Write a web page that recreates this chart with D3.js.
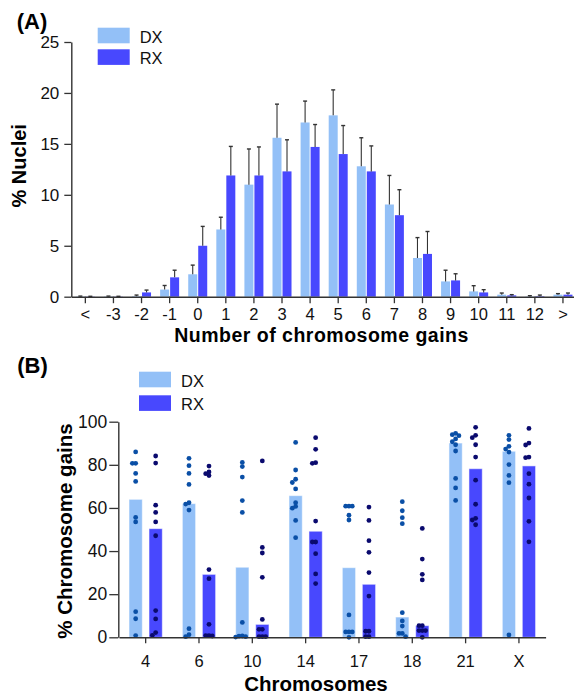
<!DOCTYPE html>
<html>
<head>
<meta charset="utf-8">
<script src="https://cdn.jsdelivr.net/npm/d3@7"></script>
<style>
  body { margin: 0; background: #fff; }
  svg { display: block; }
</style>
</head>
<body>
<script>
// Panel A: % nuclei by number of chromosome gains (mean + SD)
var gainCats = ["<", "-3", "-2", "-1", "0", "1", "2", "3", "4", "5", "6", "7", "8", "9", "10", "11", "12", ">"];
var dxMean = [0.03, 0.03, 0.05, 0.7, 2.2, 6.6, 11.0, 15.6, 17.1, 17.8, 12.8, 9.05, 3.8, 1.5, 0.52, 0.2, 0.03, 0.2];
var dxSd   = [0.03, 0.03, 0.11, 0.4, 0.9, 1.2, 3.5, 3.3, 2.1, 2.5, 2.8, 2.85, 2.0, 1.1, 0.56, 0.16, 0.07, 0.1];
var rxMean = [0.02, 0.02, 0.42, 1.9, 5.0, 11.9, 11.9, 12.3, 14.7, 14.0, 12.3, 8.0, 4.2, 1.6, 0.42, 0.13, 0.05, 0.2];
var rxSd   = [0.02, 0.02, 0.23, 0.7, 1.9, 2.85, 2.8, 3.1, 2.2, 2.8, 2.5, 2.5, 2.2, 0.65, 0.27, 0.07, 0.11, 0.16];

// Panel B: % chromosome gains per chromosome (median + individual samples)
var chroms = ["4", "6", "10", "14", "17", "18", "21", "X"];
var dxMedian = [64.0, 62.0, 32.5, 65.7, 32.3, 9.4, 90.1, 86.3];
var rxMedian = [50.4, 29.2, 6.0, 49.2, 24.6, 5.4, 78.2, 79.5];
var dxPoints = [
  [86.0, 80.7, 80.7, 76.0, 72.3, 55.6, 53.5, 11.9, 8.6, 0.8],
  [83.0, 79.6, 76.0, 70.9, 62.4, 61.8, 59.0, 4.0, 1.2, 0.3],
  [81.1, 79.2, 74.3, 63.4, 57.9, 6.9, 0.6, 0.5, 0.3, 0.1],
  [90.4, 77.6, 73.3, 71.8, 68.8, 62.4, 60.7, 59.9, 54.2, 46.2],
  [60.8, 60.8, 60.8, 56.6, 54.4, 10.4, 2.5, 2.5, 2.5, 0.0],
  [62.9, 58.7, 55.5, 52.7, 11.4, 7.6, 5.2, 1.8, 1.8, 0.3],
  [94.6, 94.0, 93.5, 92.0, 90.7, 89.3, 86.4, 73.7, 69.3, 63.5],
  [93.7, 91.7, 88.6, 87.3, 85.9, 80.1, 75.1, 71.7, 1.1]
];
var rxPoints = [
  [84.1, 80.8, 61.3, 57.9, 53.5, 47.1, 12.4, 8.5, 2.2, 0.9],
  [79.4, 76.7, 75.9, 75.0, 31.4, 27.2, 6.0, 0.8, 0.8, 0.6],
  [81.8, 41.7, 39.1, 27.8, 8.3, 3.7, 3.7, 0.3, 0.3, 0.3],
  [92.6, 87.2, 81.0, 80.7, 53.9, 44.2, 44.2, 38.8, 29.4, 24.9],
  [60.4, 54.2, 44.8, 39.4, 30.0, 19.1, 2.8, 2.8, 0.3, 0.3],
  [50.5, 36.3, 29.2, 26.6, 5.4, 5.4, 3.1, 3.1, 3.1, 0.0],
  [97.4, 93.7, 92.6, 89.3, 83.6, 72.9, 61.7, 55.2, 54.4, 52.2],
  [96.9, 90.1, 89.2, 83.6, 83.3, 75.9, 71.0, 64.6, 53.8, 44.3]
];

var groups = ["DX", "RX"];
var barColor = { DX: "#93c0f7", RX: "#4848fe" };
var dotColor = { DX: "#0a4fa6", RX: "#0a0a6e" };
var axisColor = "#333";

var width = 574, height = 697;

var svg = d3.select("body").append("svg")
    .attr("width", width)
    .attr("height", height)
    .style("font-family", "'Liberation Sans', Arial, sans-serif");

function styleAxis(g, fontSize) {
  g.select(".domain").attr("stroke", axisColor).attr("stroke-width", 1.4);
  g.selectAll(".tick line").attr("stroke", axisColor).attr("stroke-width", 1.3);
  g.selectAll(".tick text").attr("fill", "#111").style("font-size", fontSize + "px");
}

function legend(x, y, gap) {
  var lg = svg.append("g").attr("transform", "translate(" + x + "," + y + ")");
  groups.forEach(function(k, i) {
    lg.append("rect")
      .attr("x", 0).attr("y", i * gap)
      .attr("width", 32).attr("height", 15.6)
      .attr("fill", barColor[k]);
    lg.append("text")
      .attr("x", 42).attr("y", i * gap + 15)
      .style("font-size", "16.5px")
      .attr("fill", "#111")
      .text(k);
  });
}

// ---------- Panel A ----------
var xA = d3.scaleBand().domain(gainCats).range([71.3, 577]);
var yA = d3.scaleLinear().domain([0, 25]).range([296.7, 42]);
var subA = d3.scaleBand().domain(groups).range([-9.5, 9.5]).paddingInner(0.1);

var rowsA = gainCats.map(function(c, i) {
  return [
    { cat: c, grp: "DX", mean: dxMean[i], sd: dxSd[i] },
    { cat: c, grp: "RX", mean: rxMean[i], sd: rxSd[i] }
  ];
}).flat();

var gA = svg.append("g");

gA.selectAll("rect.barA")
  .data(rowsA)
  .enter().append("rect")
    .attr("class", "barA")
    .attr("x", function(d) { return xA(d.cat) + xA.bandwidth() / 2 + subA(d.grp); })
    .attr("y", function(d) { return yA(d.mean); })
    .attr("width", subA.bandwidth())
    .attr("height", function(d) { return yA(0) - yA(d.mean); })
    .attr("fill", function(d) { return barColor[d.grp]; });

var errA = gA.selectAll("g.err")
  .data(rowsA)
  .enter().append("g")
    .attr("class", "err")
    .attr("transform", function(d) {
      return "translate(" + (xA(d.cat) + xA.bandwidth() / 2 + subA(d.grp) + subA.bandwidth() / 2) + ",0)";
    });
errA.append("line")
  .attr("x1", 0).attr("x2", 0)
  .attr("y1", function(d) { return yA(d.mean); })
  .attr("y2", function(d) { return yA(d.mean + d.sd); })
  .attr("stroke", "#333").attr("stroke-width", 1.1);
errA.append("line")
  .attr("x1", -2).attr("x2", 2)
  .attr("y1", function(d) { return yA(d.mean + d.sd); })
  .attr("y2", function(d) { return yA(d.mean + d.sd); })
  .attr("stroke", "#333").attr("stroke-width", 1.4);

gA.append("g")
  .attr("transform", "translate(71.3,0)")
  .call(d3.axisLeft(yA).tickValues([0, 5, 10, 15, 20, 25]).tickSize(7).tickPadding(5).tickSizeOuter(0))
  .call(styleAxis, 17);

gA.append("g")
  .attr("transform", "translate(0,296.7)")
  .call(d3.axisBottom(xA).tickSize(6.5).tickPadding(5).tickSizeOuter(0))
  .call(styleAxis, 16.5);

gA.append("text")
  .attr("x", 321.5).attr("y", 341.5)
  .attr("text-anchor", "middle")
  .style("font-size", "19.5px").style("font-weight", "bold")
  .style("letter-spacing", "0.5px")
  .text("Number of chromosome gains");

gA.append("text")
  .attr("transform", "translate(26,165.8)rotate(-90)")
  .attr("text-anchor", "middle")
  .style("font-size", "20px").style("font-weight", "bold")
  .text("% Nuclei");

svg.append("text")
  .attr("x", 16.7).attr("y", 28.5)
  .style("font-size", "22px").style("font-weight", "bold")
  .text("(A)");

legend(97.7, 27.7, 21.6);

// ---------- Panel B ----------
var xB = d3.scaleBand().domain(chroms).range([119, 545.6]);
var yB = d3.scaleLinear().domain([0, 100]).range([637.3, 421.7]);
var subB = d3.scaleBand().domain(groups).range([-16.65, 16.65]).paddingInner(0.335);

var rowsB = chroms.map(function(c, i) {
  return [
    { cat: c, grp: "DX", med: dxMedian[i], pts: dxPoints[i] },
    { cat: c, grp: "RX", med: rxMedian[i], pts: rxPoints[i] }
  ];
}).flat();

var gB = svg.append("g");

gB.selectAll("rect.barB")
  .data(rowsB)
  .enter().append("rect")
    .attr("class", "barB")
    .attr("x", function(d) { return xB(d.cat) + xB.bandwidth() / 2 + subB(d.grp); })
    .attr("y", function(d) { return yB(d.med); })
    .attr("width", subB.bandwidth())
    .attr("height", function(d) { return yB(0) - yB(d.med); })
    .attr("fill", function(d) { return barColor[d.grp]; })
    .attr("stroke", "rgba(255,255,255,0.55)")
    .attr("stroke-width", 1);

// simple greedy swarm so overlapping samples sit side by side
function swarm(vals, y, step, minDist) {
  var pts = vals.map(function(v) { return { v: v, y: y(v), x: 0 }; })
    .sort(function(a, b) { return a.y - b.y; });
  var placed = [];
  pts.forEach(function(p) {
    for (var k = 0; k < 15; k++) {
      var off = k === 0 ? 0 : (k % 2 ? -1 : 1) * Math.ceil(k / 2) * step;
      var ok = placed.every(function(q) { return Math.hypot(q.x - off, q.y - p.y) >= minDist; });
      if (ok) { p.x = off; break; }
    }
    placed.push(p);
  });
  return placed;
}

rowsB.forEach(function(d) {
  var cx = xB(d.cat) + xB.bandwidth() / 2 + subB(d.grp) + subB.bandwidth() / 2;
  gB.append("g").selectAll("circle")
    .data(swarm(d.pts, yB, 3.3, 3.3))
    .enter().append("circle")
      .attr("cx", function(p) { return cx + p.x; })
      .attr("cy", function(p) { return p.y; })
      .attr("r", 2.4)
      .attr("fill", dotColor[d.grp]);
});

gB.append("g")
  .attr("transform", "translate(118.3,0)")
  .call(d3.axisLeft(yB).tickValues([0, 20, 40, 60, 80, 100]).tickSize(9).tickPadding(2).tickSizeOuter(0))
  .call(styleAxis, 17.5);

gB.append("g")
  .attr("transform", "translate(0,637.3)")
  .call(d3.axisBottom(xB).tickSize(6).tickPadding(12).tickSizeOuter(0))
  .call(styleAxis, 16.5);

gB.append("text")
  .attr("x", 316).attr("y", 690.7)
  .attr("text-anchor", "middle")
  .style("font-size", "20.5px").style("font-weight", "bold")
  .text("Chromosomes");

gB.append("text")
  .attr("transform", "translate(71.5,531)rotate(-90)")
  .attr("text-anchor", "middle")
  .style("font-size", "20.5px").style("font-weight", "bold")
  .text("% Chromosome gains");

svg.append("text")
  .attr("x", 17.3).attr("y", 372.7)
  .style("font-size", "22px").style("font-weight", "bold")
  .text("(B)");

legend(139, 371.7, 23.6);
</script>
</body>
</html>
